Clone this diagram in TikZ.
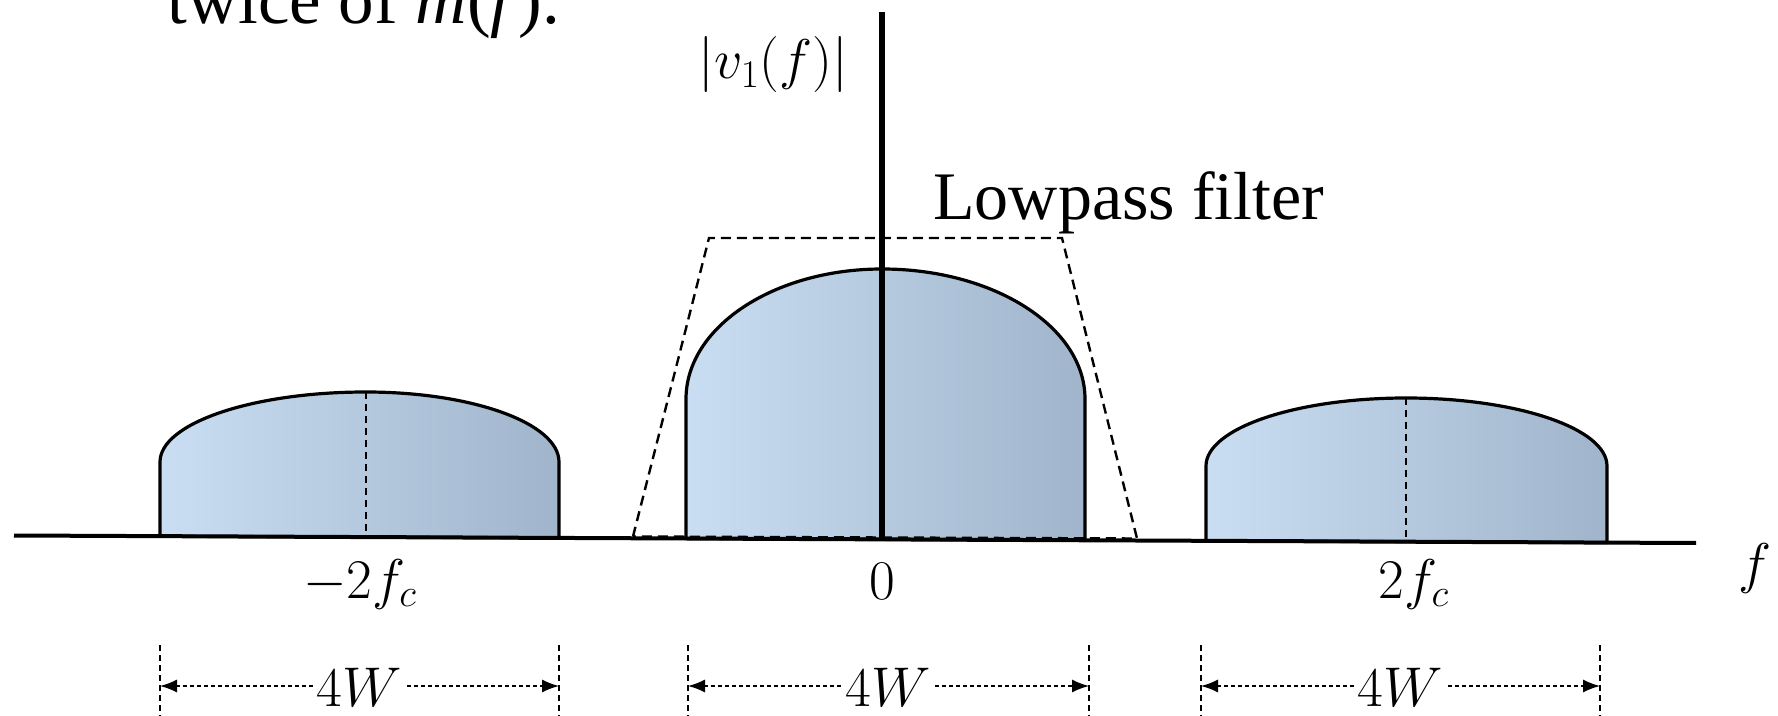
\RequirePackage{fix-cm}
\documentclass[tikz,border=0pt]{standalone}
\usepackage{fontspec}
\newfontfamily\tnr{Liberation Serif}
\usetikzlibrary{arrows.meta,calc}
\definecolor{bumpL}{RGB}{201,222,242}
\definecolor{bumpR}{RGB}{160,181,203}
\newcommand{\bumpshape}[7]{%
  \path[bump] (#1,#6) -- (#1,#4)
    .. controls (#1,{#4-0.5523*(#4-#5)}) and ({#2-0.5523*(#2-#1)},#5) .. (#2,#5)
    .. controls ({#2+0.5523*(#3-#2)},#5) and (#3,{#4-0.5523*(#4-#5)}) .. (#3,#4)
    -- (#3,#7) -- cycle;}
\begin{document}
\begin{tikzpicture}[x=0.5pt,y=-0.5pt,
  bump/.style={draw=black,line width=1.6pt,left color=bumpL,right color=bumpR},
  ctr/.style={draw=black,line width=1.2pt,dash pattern=on 3.5pt off 2.5pt},
  filt/.style={draw=black,line width=1.2pt,dash pattern=on 5pt off 3pt},
  axisline/.style={line width=2pt},
  vaxis/.style={line width=2.8pt},
  mlbl/.style={font=\fontsize{28}{34}\selectfont,inner sep=0pt,anchor=base},
  tnrlbl/.style={font=\tnr\fontsize{#1}{#1}\selectfont,inner sep=0pt,anchor=base west},
  tickline/.style={line width=0.8pt,dash pattern=on 3pt off 2pt},
  dimline/.style={line width=0.7pt,dash pattern=on 2pt off 1.5pt,
     {Latex[length=8.5pt,width=6.5pt]}-{Latex[length=8.5pt,width=6.5pt]}},
  wlbl/.style={font=\fontsize{28}{34}\selectfont,fill=white,inner xsep=1pt,inner ysep=0pt,anchor=base},
  ]
\path[use as bounding box] (0,0) rectangle (1778,716);
\clip (0,0) rectangle (1778,716);

% spectra
\bumpshape{160}{366}{559}{462}{392}{536.2}{537.9}
\bumpshape{686}{882}{1085}{399}{269}{538.5}{540.3}
\bumpshape{1206}{1406}{1607}{466}{398}{540.8}{542.6}
\draw[ctr] (366,392) -- (366,537.1);
\draw[ctr] (1406,398) -- (1406,541.7);

% lowpass filter
\draw[filt] (633,536.5) -- (709,238) -- (1062,238) -- (1137,538.5) -- cycle;

% axes
\coordinate (ax0) at (14,535.5);
\coordinate (ax1) at (1696,543);
\draw[axisline] (ax0) -- (ax1);
\coordinate (vtop) at (882,12);
\coordinate (vbot) at (882,539.4);
\draw[vaxis] (vtop) -- (vbot);

% texts
\node[tnrlbl=35.5] (twice) at (167,24) {twice of \textit{m}(\textit{f}).};
\node[tnrlbl=34] (lpf) at (933,220) {Lowpass filter};
\node[mlbl] (ylab) at (773.5,79) {$|v_1(f)|$};
\node[mlbl] (lm2) at (360,598) {$-2f_c$};
\node[mlbl] (l0) at (882,599) {$0$};
\node[mlbl] (l2) at (1414,598) {$2f_c$};
\node[mlbl] (lf) at (1755,582) {$f$};

% dimension lines
\foreach \x [count=\i] in {160,559,688,1089,1201,1600}{
  \coordinate (tt\i) at (\x,645);
  \coordinate (tb\i) at (\x,720);
  \coordinate (ta\i) at (\x,686);
  \draw[tickline] (tt\i) -- (tb\i);
}
\draw[dimline] (ta1) -- (ta2);
\draw[dimline] (ta3) -- (ta4);
\draw[dimline] (ta5) -- (ta6);
\node[wlbl] (w1) at ($(ta1)!0.5!(ta2)+(0,20)$) {$4W$};
\node[wlbl] (w2) at ($(ta3)!0.5!(ta4)+(0,20)$) {$4W$};
\node[wlbl] (w3) at ($(ta5)!0.5!(ta6)+(0,20)$) {$4W$};
\end{tikzpicture}
\end{document}
